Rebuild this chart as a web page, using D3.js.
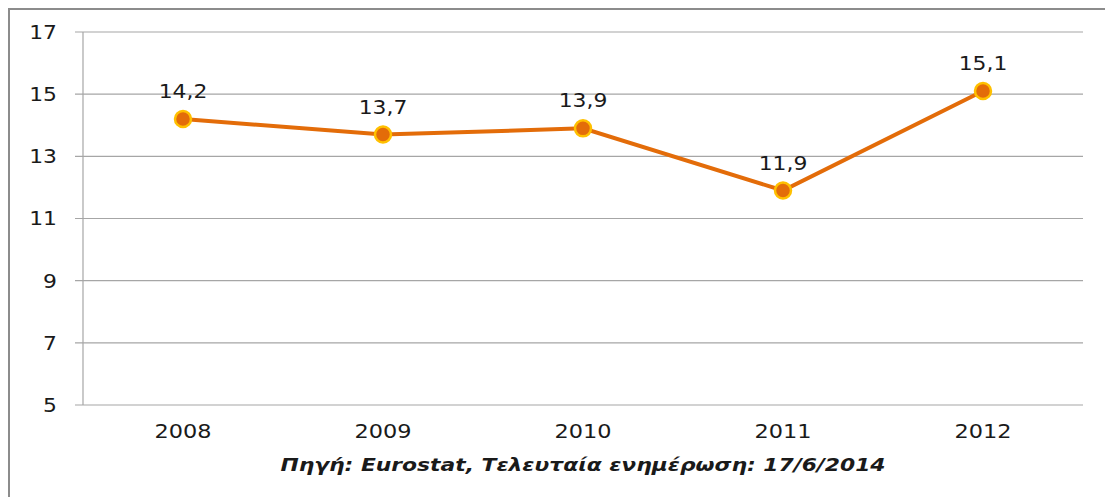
<!DOCTYPE html>
<html>
<head>
<meta charset="utf-8">
<script src="https://cdn.jsdelivr.net/npm/d3@7"></script>
<style>
  body { margin: 0; background: #fff; }
  text { font-family: "DejaVu Sans", sans-serif; fill: #1a1a1a; }
</style>
</head>
<body>
<div id="chart"></div>
<script>
var years = ["2008", "2009", "2010", "2011", "2012"];
var values = [14.2, 13.7, 13.9, 11.9, 15.1];
var yTicks = [5, 7, 9, 11, 13, 15, 17];
var sourceNote = "Πηγή: Eurostat, Τελευταία ενημέρωση: 17/6/2014";

var width = 1105, height = 497;
var margin = { top: 32, right: 22, bottom: 92, left: 83 };

var svg = d3.select("#chart").append("svg")
	.attr("width", width)
	.attr("height", height);

// outer frame (only top and left edges visible)
svg.append("path")
	.attr("d", "M9," + height + "V9H" + width)
	.attr("fill", "none")
	.attr("stroke", "#8c8c8c")
	.attr("stroke-width", 2);

var x = d3.scaleBand()
	.domain(years)
	.range([margin.left, width - margin.right]);

var y = d3.scaleLinear()
	.domain([5, 17])
	.range([height - margin.bottom, margin.top]);

function stretch(sel, sx) {
	sel.attr("transform", function() {
		var t = d3.select(this);
		var px = +t.attr("x"), py = +t.attr("y");
		return "translate(" + px + "," + py + ") scale(" + sx + ",1) translate(" + (-px) + "," + (-py) + ")";
	});
}

// gridlines
svg.append("g")
	.selectAll("line")
	.data(yTicks)
	.enter().append("line")
	.attr("x1", margin.left - 8)
	.attr("x2", width - margin.right)
	.attr("y1", function(d) { return y(d); })
	.attr("y2", function(d) { return y(d); })
	.attr("stroke", "#a6a6a6")
	.attr("stroke-width", 1.2);

// y axis line
svg.append("line")
	.attr("x1", margin.left).attr("x2", margin.left)
	.attr("y1", y(17)).attr("y2", y(5))
	.attr("stroke", "#a6a6a6")
	.attr("stroke-width", 1.2);

// y labels
svg.append("g")
	.selectAll("text")
	.data(yTicks)
	.enter().append("text")
	.attr("x", 57)
	.attr("y", function(d) { return y(d) + 7; })
	.attr("text-anchor", "end")
	.attr("font-size", 19)
	.text(function(d) { return d; })
	.call(stretch, 1.15);

// x labels
svg.append("g")
	.selectAll("text")
	.data(years)
	.enter().append("text")
	.attr("x", function(d) { return x(d) + x.bandwidth() / 2; })
	.attr("y", y(5) + 33)
	.attr("text-anchor", "middle")
	.attr("font-size", 19)
	.text(function(d) { return d; })
	.call(stretch, 1.18);

var line = d3.line()
	.x(function(d, i) { return x(years[i]) + x.bandwidth() / 2; })
	.y(function(d) { return y(d); });

svg.append("path")
	.datum(values)
	.attr("d", line)
	.attr("fill", "none")
	.attr("stroke", "#E36C09")
	.attr("stroke-width", 4);

svg.append("g")
	.selectAll("circle")
	.data(values)
	.enter().append("circle")
	.attr("cx", function(d, i) { return x(years[i]) + x.bandwidth() / 2; })
	.attr("cy", function(d) { return y(d); })
	.attr("r", 8)
	.attr("fill", "#E36C09")
	.attr("stroke", "#FFC000")
	.attr("stroke-width", 2.5);

// data labels
svg.append("g")
	.selectAll("text")
	.data(values)
	.enter().append("text")
	.attr("x", function(d, i) { return x(years[i]) + x.bandwidth() / 2; })
	.attr("y", function(d) { return y(d) - 21; })
	.attr("text-anchor", "middle")
	.attr("font-size", 19)
	.text(function(d) { return d3.format(".1f")(d).replace(".", ","); })
	.call(stretch, 1.15);

// source note
svg.append("text")
	.attr("x", 583)
	.attr("y", 471)
	.attr("text-anchor", "middle")
	.attr("font-size", 18.5)
	.attr("font-weight", "bold")
	.attr("font-style", "italic")
	.text(sourceNote)
	.call(stretch, 1.18);
</script>
</body>
</html>
